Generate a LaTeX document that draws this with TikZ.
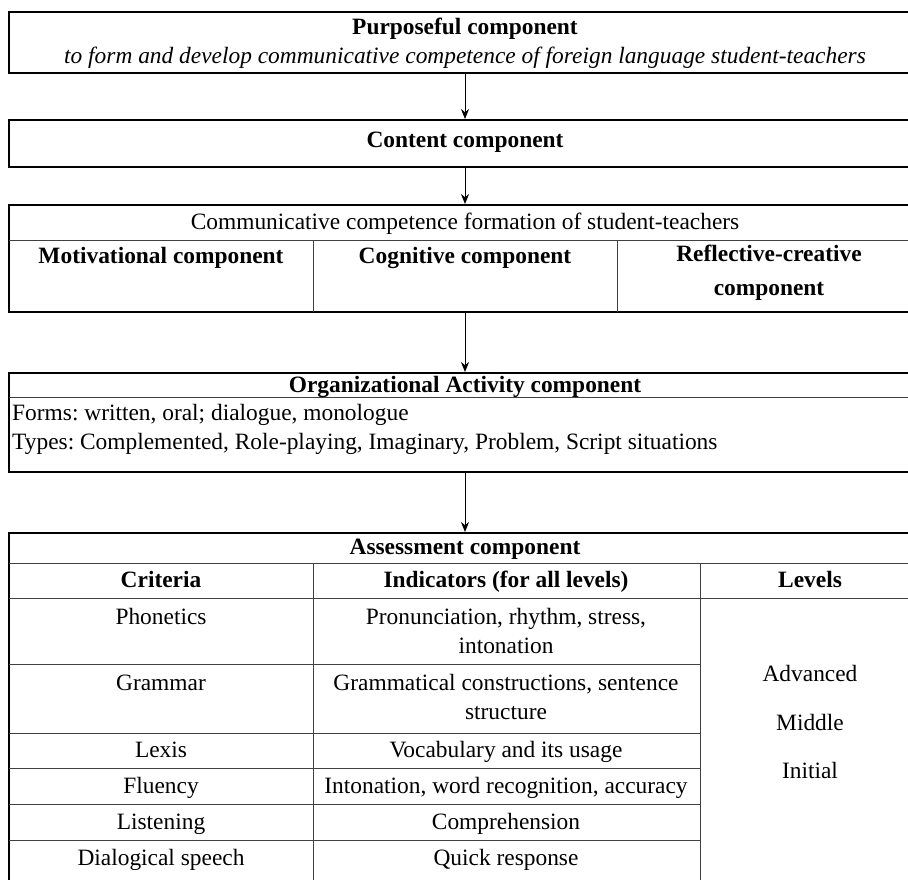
\documentclass[tikz,border=0pt]{standalone}
\usepackage{fontspec}
\setmainfont{Liberation Serif}
\usepackage{tikz}
\usetikzlibrary{arrows.meta, positioning}

\newcommand{\celltxt}{\fontsize{23.4}{29}\selectfont}
\frenchspacing

\begin{document}
\begin{tikzpicture}[x=1pt, y=-1pt, >={Stealth[length=10pt, width=8pt]}, font=\celltxt,
    compbox/.style={draw, line width=2pt, minimum width=912pt, inner sep=0pt},
    rule/.style={line width=1pt, black!75},
    heading/.style={font=\celltxt\bfseries, inner sep=0pt, text height=18pt, text depth=3pt},
    cell/.style={inner sep=0pt, align=center},
    oneline/.style={cell, text height=18pt, text depth=3pt}]
        \useasboundingbox (0,0) rectangle (908,880);
        \clip (0,0) rectangle (908,880);

        % component boxes
        \node[compbox, minimum height=61pt] (purpose) at (465,42.5) {};
        \node[compbox, minimum height=47pt] (content) at (465,143.5) {};
        \node[compbox, minimum height=107pt] (formation) at (465,258.5) {};
        \node[compbox, minimum height=99pt] (organiz) at (465,422.5) {};
        \node[compbox, minimum height=351pt] (assess) at (465,708.5) {};

        % inner rules
        \draw[rule] (9,240) -- (921,240);
        \draw[rule] (313,240) -- (313,312);
        \draw[rule] (617,240) -- (617,312);
        \draw[rule] (9,397) -- (921,397);
        \draw[rule] (9,563) -- (921,563);
        \draw[rule] (9,598) -- (921,598);
        \draw[rule] (313,563) -- (313,884);
        \draw[rule] (700,563) -- (700,884);
        \foreach \ry in {664,733,768,804,840}
          \draw[rule] (9,\ry) -- (700,\ry);

        % texts
        \node[heading] (purposeT) at (465,27) {Purposeful component};
        \node[oneline, font=\celltxt\itshape] (aim) at (465,56)
              {to form and develop communicative competence of foreign language student-teachers};
        \node[heading] (contentT) at (465,140) {Content component};
        \node[oneline] (formationT) at (465,222) {Communicative competence formation of student-teachers};
        \node[heading] (motiv) at (161,256) {Motivational component};
        \node[heading] (cogn) at (465,256) {Cognitive component};
        \node[cell, font=\celltxt\bfseries] (reflect) at (769,273) {Reflective-creative\\[5pt]component};
        \node[heading] (organizT) at (465,385) {Organizational Activity component};
        \node[oneline, anchor=west] (forms) at (12,413) {Forms: written, oral; dialogue, monologue};
        \node[oneline, anchor=west] (types) at (12,442) {Types: Complemented, Role-playing, Imaginary, Problem, Script situations};
        \node[heading] (assessT) at (465,547) {Assessment component};
        \node[heading] (crit) at (161,580) {Criteria};
        \node[heading] (indic) at (506,580) {Indicators (for all levels)};
        \node[heading] (levels) at (810,580) {Levels};

        \node[oneline] (phon) at (161,617) {Phonetics};
        \node[cell] (phonI) at (506,631) {Pronunciation, rhythm, stress,\\intonation};
        \node[oneline] (gram) at (161,683) {Grammar};
        \node[cell] (gramI) at (506,697) {Grammatical constructions, sentence\\structure};
        \node[oneline] (lex) at (161,750) {Lexis};
        \node[oneline] (lexI) at (506,750) {Vocabulary and its usage};
        \node[oneline] (flu) at (161,786) {Fluency};
        \node[oneline] (fluI) at (506,786) {Intonation, word recognition, accuracy};
        \node[oneline] (listen) at (161,822) {Listening};
        \node[oneline] (listenI) at (506,822) {Comprehension};
        \node[oneline] (dial) at (161,858) {Dialogical speech};
        \node[oneline] (dialI) at (506,858) {Quick response};

        \node[oneline] (adv) at (810,674) {Advanced};
        \node[oneline] (mid) at (810,723) {Middle};
        \node[oneline] (init) at (810,771) {Initial};

        % flow arrows
        \draw[->, line width=1pt] (purpose) -- (content);
        \draw[->, line width=1pt] (content) -- (formation);
        \draw[->, line width=1pt] (formation) -- (organiz);
        \draw[->, line width=1pt] (organiz) -- (assess);
      \end{tikzpicture}
\end{document}
